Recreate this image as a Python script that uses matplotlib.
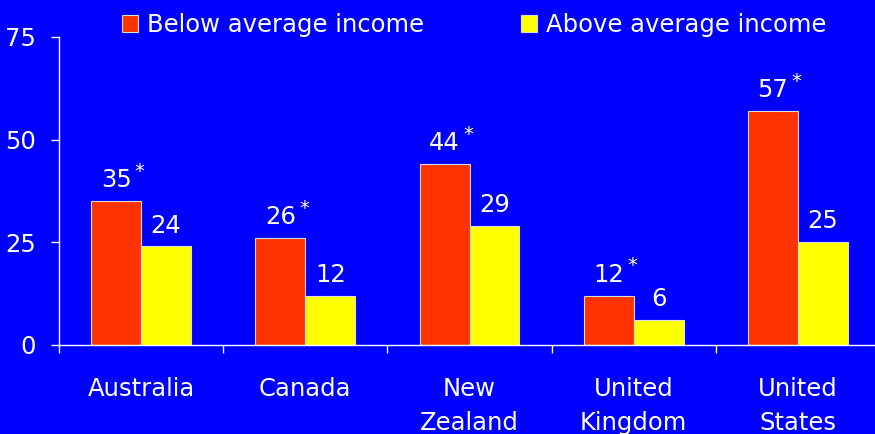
import matplotlib
matplotlib.use('Agg')
import matplotlib.pyplot as plt
import numpy as np

# Chart data
countries = ['Australia', 'Canada', 'New\nZealand', 'United\nKingdom', 'United\nStates']
below_avg = [35, 26, 44, 12, 57]
above_avg = [24, 12, 29, 6, 25]
below_star = [True, True, True, True, True]
y_ticks = [0, 25, 50, 75]

BG = '#0000FF'
RED = '#FF3300'
YELLOW = '#FFFF00'
FS = 17.5

plt.rcParams['font.family'] = ['DejaVu Sans']

fig = plt.figure(figsize=(8.75, 4.34), dpi=100, facecolor=BG)
ax = fig.add_axes([59 / 875, 1 - 345 / 434, 821 / 875, 308 / 434])
ax.set_facecolor(BG)

x = np.arange(len(countries))
w = 0.304
ax.bar(x - w / 2, below_avg, w, color=RED, edgecolor='#dddddd', linewidth=0.8,
       label='Below average income')
ax.bar(x + w / 2, above_avg, w, color=YELLOW, edgecolor='#dddddd', linewidth=0.8,
       label='Above average income')

# Value labels
for xi, v, star in zip(x - w / 2, below_avg, below_star):
    ax.annotate(str(v), (xi, v), xytext=(0, 10), textcoords='offset points',
                ha='center', va='baseline', color='white', fontsize=FS)
    if star:
        ax.annotate('*', (xi, v), xytext=(17, 17.5), textcoords='offset points',
                    ha='center', va='baseline', color='white', fontsize=14)
for xi, v in zip(x + w / 2, above_avg):
    ax.annotate(str(v), (xi, v), xytext=(0, 10), textcoords='offset points',
                ha='center', va='baseline', color='white', fontsize=FS)

ax.set_xlim(-0.5, len(countries) - 0.5)
ax.set_ylim(0, 75)

# Ticks at category boundaries, labels at centers
ax.set_xticks(np.arange(-0.5, len(countries), 1.0))
ax.set_xticklabels([])
ax.set_xticks(x, minor=True)
ax.set_xticklabels(countries, minor=True, linespacing=1.55)
ax.tick_params(axis='x', which='major', direction='out', length=5.5, width=1, color='white')
ax.tick_params(axis='x', which='minor', length=0, pad=23, labelsize=FS, labelcolor='white')

ax.set_yticks(y_ticks)
ax.tick_params(axis='y', direction='out', length=5.8, width=1, color='white',
               pad=10.5, labelsize=FS, labelcolor='white')

for side in ['top', 'right']:
    ax.spines[side].set_visible(False)
for side in ['left', 'bottom']:
    ax.spines[side].set_color('white')
    ax.spines[side].set_linewidth(1)

leg = ax.legend(ncol=2, loc='center left', bbox_to_anchor=(122 / 875, 1 - 25 / 434),
                bbox_transform=fig.transFigure, frameon=False, fontsize=FS,
                handlelength=0.66, handleheight=0.66, handletextpad=0.37,
                columnspacing=4.0, borderpad=0, borderaxespad=0)
for t in leg.get_texts():
    t.set_color('white')

fig.savefig('out.png', dpi=100, facecolor=BG)
